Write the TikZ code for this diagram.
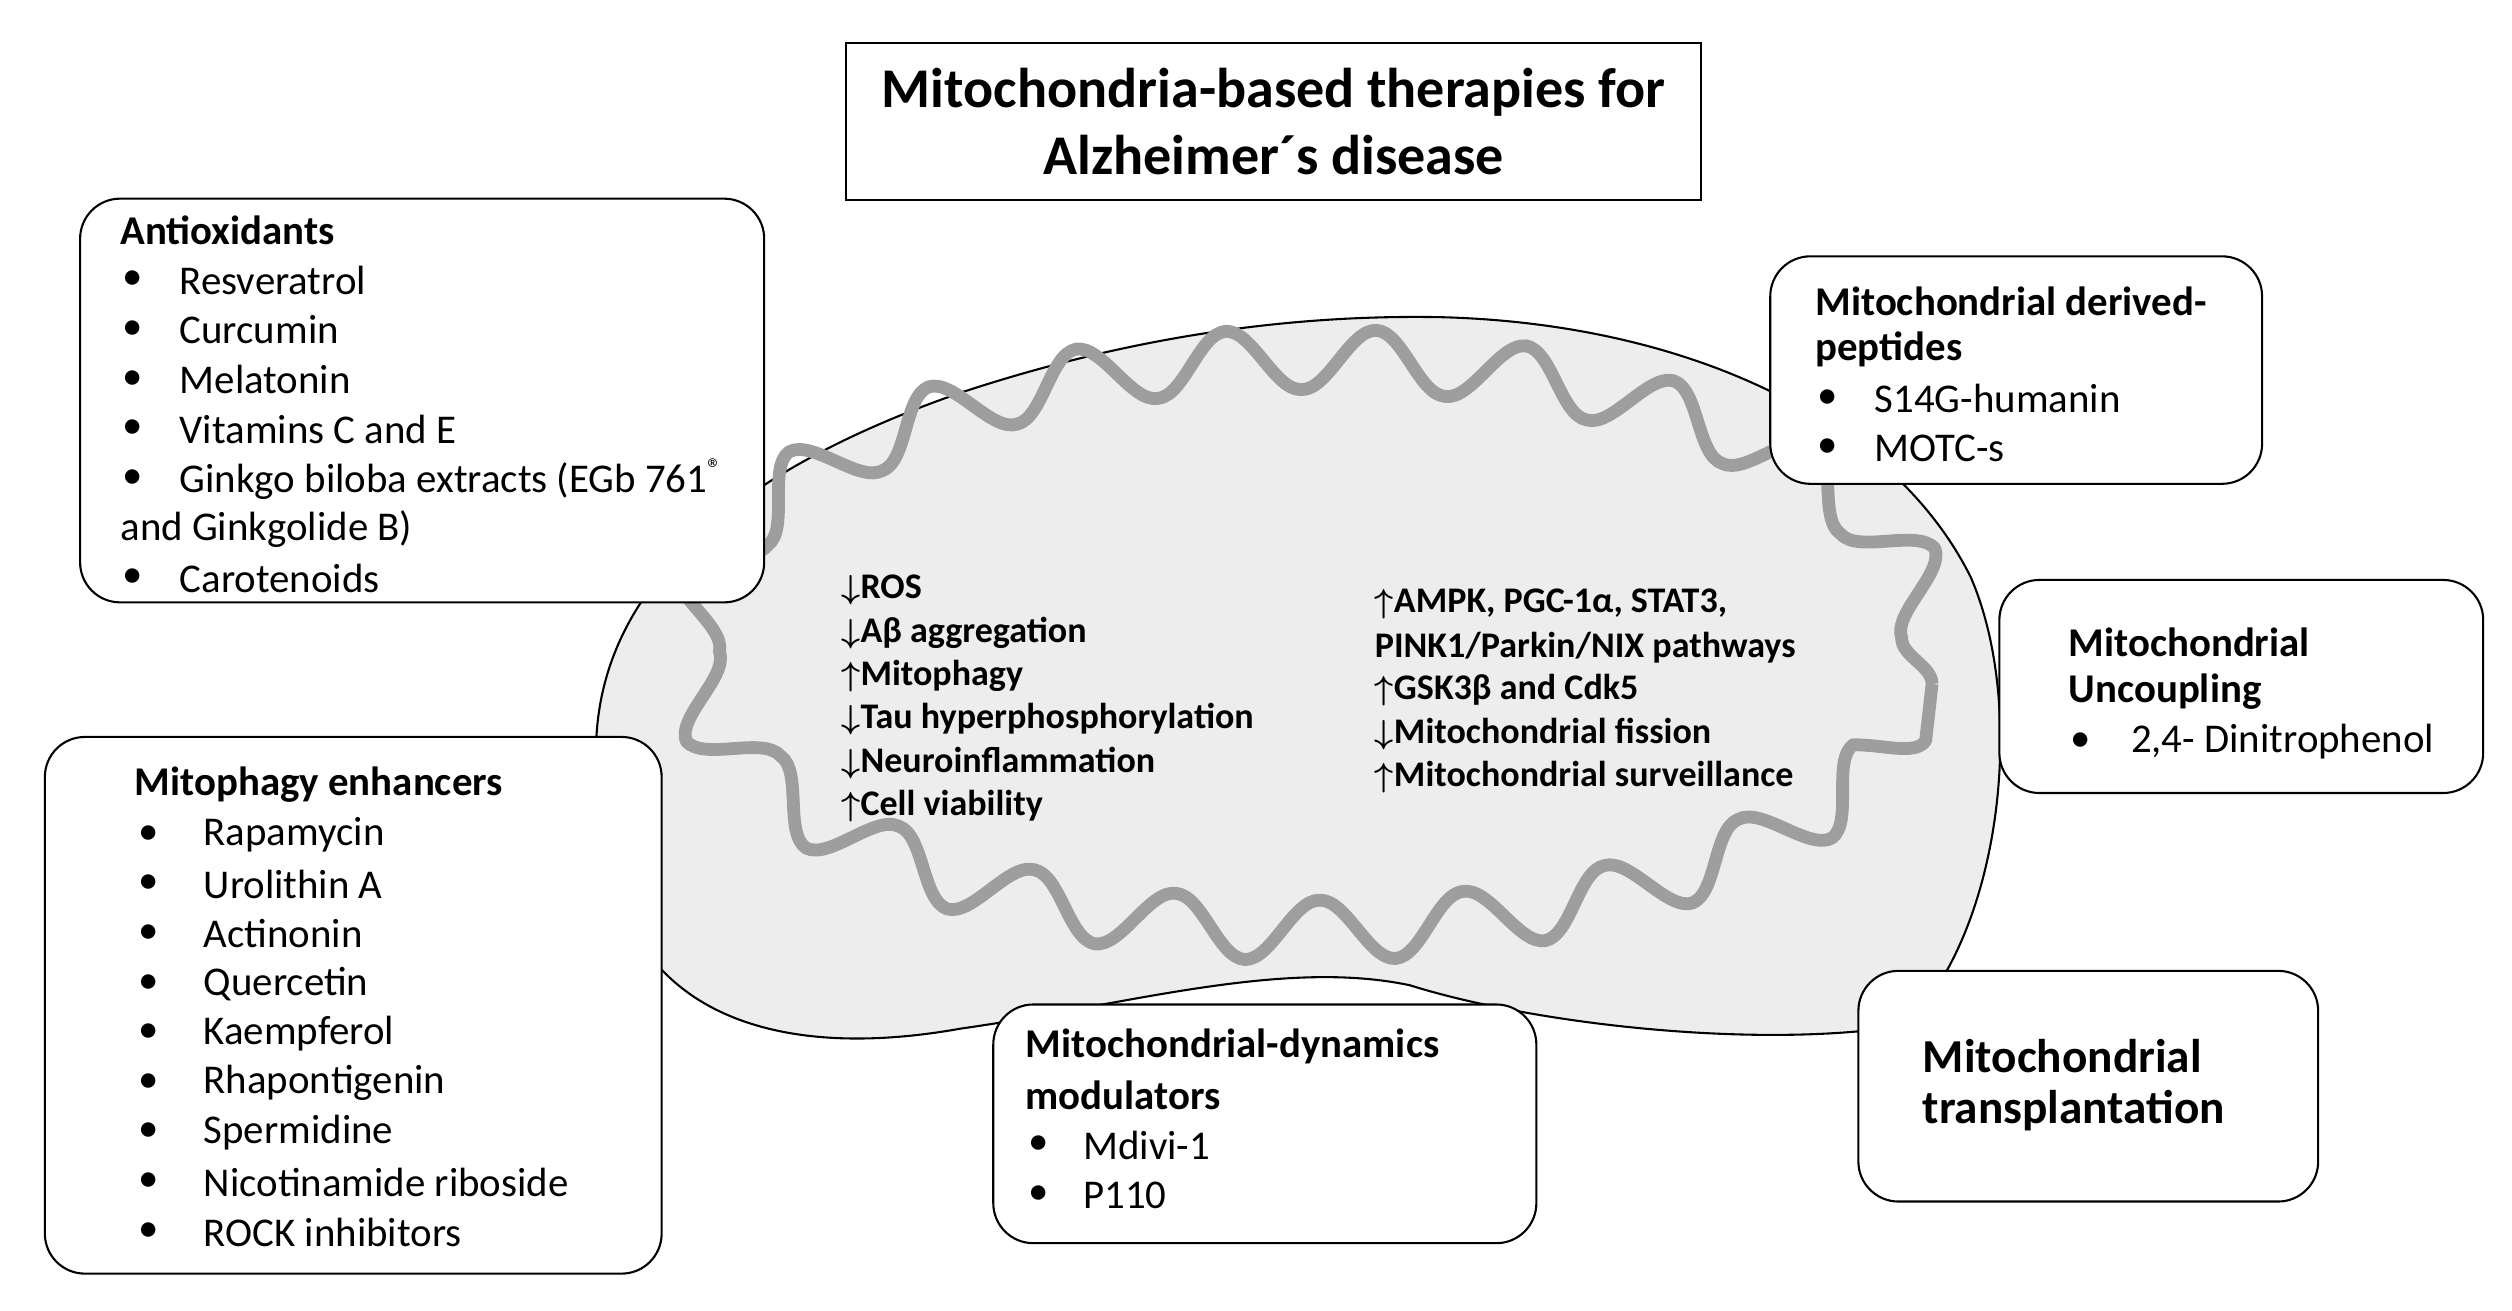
\documentclass[tikz,border=0pt]{standalone}
\usepackage{fontspec}
\setmainfont{Carlito}
\usetikzlibrary{decorations.pathmorphing}
\newcommand{\myup}{{\boldmath$\uparrow$}}
\newcommand{\mydn}{{\boldmath$\downarrow$}}
\begin{document}
\begin{tikzpicture}[x=1pt,y=-1pt,
  box/.style={draw, rounded corners=25pt, fill=white, line width=1.3pt},
  t/.style={anchor=west, inner sep=0pt, font=\fontsize{25.5}{30}\selectfont},
  tb/.style={t, font=\fontsize{25.5}{30}\selectfont\bfseries},
  inn/.style={anchor=west, inner sep=0pt, font=\fontsize{22.5}{26}\selectfont\bfseries}]
\useasboundingbox (0,0) rectangle (1568,818);
% mitochondrion
\draw[fill=black!7, line width=1.3pt] (372,470) .. controls (372,360) and (470,290) .. (600,245)
  .. controls (700,212) and (800,196) .. (900,198)
  .. controls (1050,202) and (1180,260) .. (1230,360)
  .. controls (1265,440) and (1250,580) .. (1190,640)
  .. controls (1100,655) and (960,640) .. (880,615)
  .. controls (800,598) and (700,628) .. (600,642)
  .. controls (500,660) and (420,640) .. (390,570)
  .. controls (376,535) .. (372,470) -- cycle;
\draw[black!38, line width=8pt, line join=round, decorate, decoration={snake, amplitude=19pt, segment length=92pt}]
  (818,427) ellipse [x radius=388pt, y radius=178pt];
% inner texts
\node[inn] (l1) at (525,368) {\mydn ROS};
\node[inn] (l2) at (525,395) {\mydn Aβ aggregation};
\node[inn] (l3) at (525,422) {\myup Mitophagy};
\node[inn] (l4) at (525,449) {\mydn Tau hyperphosphorylation};
\node[inn] (l5) at (525,476) {\mydn Neuroinflammation};
\node[inn] (l6) at (525,503) {\myup Cell viability};
\node[inn] (r1) at (858,377) {\myup AMPK, PGC-1α, STAT3,};
\node[inn] (r2) at (858,404) {PINK1/Parkin/NIX pathways};
\node[inn] (r3) at (858,431) {\myup GSK3β and Cdk5};
\node[inn] (r4) at (858,458) {\mydn Mitochondrial fission};
\node[inn] (r5) at (858,485) {\myup Mitochondrial surveillance};
% title
\node[draw, line width=1.3pt, fill=white, minimum width=534pt, minimum height=98pt, align=center,
  font=\fontsize{35}{42}\selectfont\bfseries] (title) at (795,76) {Mitochondria-based therapies for\\Alzheimer´s disease};
% boxes
\node[box, minimum width=427pt, minimum height=252pt] (bA) at (263.5,250) {};
\node[box, minimum width=385pt, minimum height=335pt] (bM) at (220.5,627.5) {};
\node[box, minimum width=307pt, minimum height=142pt] (bP) at (1258.5,231) {};
\node[box, minimum width=302pt, minimum height=133pt] (bU) at (1399,428.5) {};
\node[box, minimum width=287pt, minimum height=144pt] (bT) at (1303.5,678) {};
\node[box, minimum width=339pt, minimum height=149pt] (bD) at (789.5,701.5) {};
% antioxidants
\node[tb] (aT) at (75,144) {Antioxidants};
\foreach \s [count=\i] in {Resveratrol, Curcumin, Melatonin, Vitamins C and E, {Ginkgo biloba extracts (EGb 761\textsuperscript{®}}}{
  \node[t] (ab\i) at (76,{144+31*\i}) {•};
  \node[t] (a\i) at (112,{144+31*\i}) {\s};}
\node[t] (a6) at (75,330) {and Ginkgolide B)};
\node[t] (ab7) at (76,361) {•};
\node[t] (a7) at (112,361) {Carotenoids};
% mitophagy
\node[tb] (mT) at (84,490) {Mitophagy enhancers};
\foreach \s [count=\i] in {Rapamycin, Urolithin A, Actinonin, Quercetin, Kaempferol, Rhapontigenin, Spermidine, Nicotinamide riboside, ROCK inhibitors}{
  \node[t] (mb\i) at (86,{490+31*\i}) {•};
  \node[t] (m\i) at (127,{490+31*\i}) {\s};}
% peptides
\node[tb] (pT1) at (1133,188) {Mitochondrial derived-};
\node[tb] (pT2) at (1133,218) {peptides};
\node[t] (pb1) at (1134,249) {•}; \node[t] (p1) at (1170,249) {S14G-humanin};
\node[t] (pb2) at (1134,280) {•}; \node[t] (p2) at (1170,280) {MOTC-s};
% uncoupling
\node[tb] (uT1) at (1291,401) {Mitochondrial};
\node[tb] (uT2) at (1291,432) {Uncoupling};
\node[t] (ub1) at (1292,463) {•}; \node[t] (u1) at (1330,463) {2,4- Dinitrophenol};
% transplantation
\node[anchor=west, inner sep=0pt, font=\fontsize{29.5}{34}\selectfont\bfseries] (tT1) at (1200,659) {Mitochondrial};
\node[anchor=west, inner sep=0pt, font=\fontsize{29.5}{34}\selectfont\bfseries] (tT2) at (1200,693) {transplantation};
% dynamics
\node[tb] (dT1) at (640,653) {Mitochondrial-dynamics};
\node[tb] (dT2) at (640,684) {modulators};
\node[t] (db1) at (642,715) {•}; \node[t] (d1) at (676,715) {Mdivi-1};
\node[t] (db2) at (642,746) {•}; \node[t] (d2) at (676,746) {P110};
\end{tikzpicture}
\end{document}
